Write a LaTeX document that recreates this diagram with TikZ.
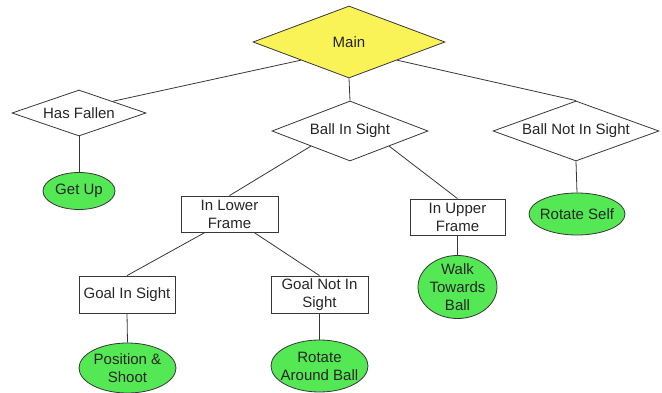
\documentclass[tikz,border=0pt]{standalone}
\usepackage{fontspec}
\setmainfont{Liberation Sans}
\usetikzlibrary{calc,shapes.geometric,positioning}

\definecolor{mainyellow}{RGB}{249,243,88}
\definecolor{leafgreen}{RGB}{84,232,84}
\definecolor{edgegray}{RGB}{55,55,55}

\tikzset{
  every node/.style={font=\fontsize{15}{18}\selectfont, text=black!85},
  choice/.style={diamond, aspect=2.8, draw=edgegray, line width=0.8pt, inner sep=0pt, fill=white},
  test/.style={rectangle, draw=edgegray, line width=0.8pt, inner sep=0pt, align=center,
    minimum height=36pt},
  leaf/.style={ellipse, draw=edgegray, line width=0.8pt, fill=leafgreen, align=center,
    inner xsep=-6pt, inner ysep=-3pt},
  link/.style={draw=edgegray, line width=0.8pt}
}

\begin{document}
\begin{tikzpicture}[x=1pt,y=1pt,yscale=-1]
  \useasboundingbox (0,0) rectangle (662,393);

  % decision diamonds
  \node[choice, fill=mainyellow, minimum width=192pt, minimum height=72pt] (main) at (349,42) {Main};
  \node[choice, minimum width=134pt, minimum height=46pt] (fallen) at (79,113) {Has Fallen};
  \node[choice, minimum width=156pt, minimum height=60pt] (insight) at (350,131) {Ball In Sight};
  \node[choice, minimum width=166pt, minimum height=60pt] (notsight) at (576,131) {Ball Not In Sight};

  % frame boxes
  \node[test, minimum width=97pt] (lower) at (229.5,214) {In Lower\\Frame};
  \node[test, minimum width=95pt] (upper) at (457.5,217) {In Upper\\Frame};
  \node[test, minimum width=96pt, minimum height=37pt] (goal) at (127,294.5) {Goal In Sight};
  \node[test, minimum width=97pt, minimum height=37pt] (nogoal) at (319.5,294.5) {Goal Not In\\Sight};

  % actions
  \node[leaf, minimum width=72pt, minimum height=37pt] (getup) at (79,191) {Get Up};
  \node[leaf, minimum width=96pt, minimum height=42pt] (rotself) at (577,214) {Rotate Self};
  \node[leaf, minimum width=79pt, minimum height=63pt] (walk) at (457.5,287) {Walk\\Towards\\Ball};
  \node[leaf, minimum width=97pt, minimum height=50pt] (shoot) at (127.5,368) {Position \&\\Shoot};
  \node[leaf, minimum width=97pt, minimum height=52pt] (around) at (319.5,366) {Rotate\\Around Ball};

  % connectors
  \draw[link] (main.south west) -- (fallen.north east);
  \draw[link] (main.south) -- (insight.north);
  \draw[link] (main.south east) -- (notsight.north);
  \draw[link] (fallen.south) -- (getup.north);
  \draw[link] (notsight.south) -- (rotself.north);
  \draw[link] (insight.south west) -- (lower.north);
  \draw[link] (insight.south east) -- (upper.north);
  \draw[link] (upper.south) -- (walk.north);
  \draw[link] ($(lower.south west)!0.25!(lower.south east)$) -- (goal.north);
  \draw[link] ($(lower.south west)!0.75!(lower.south east)$) -- (nogoal.north);
  \draw[link] (goal.south) -- (shoot.north);
  \draw[link] (nogoal.south) -- (around.north);
\end{tikzpicture}
\end{document}
